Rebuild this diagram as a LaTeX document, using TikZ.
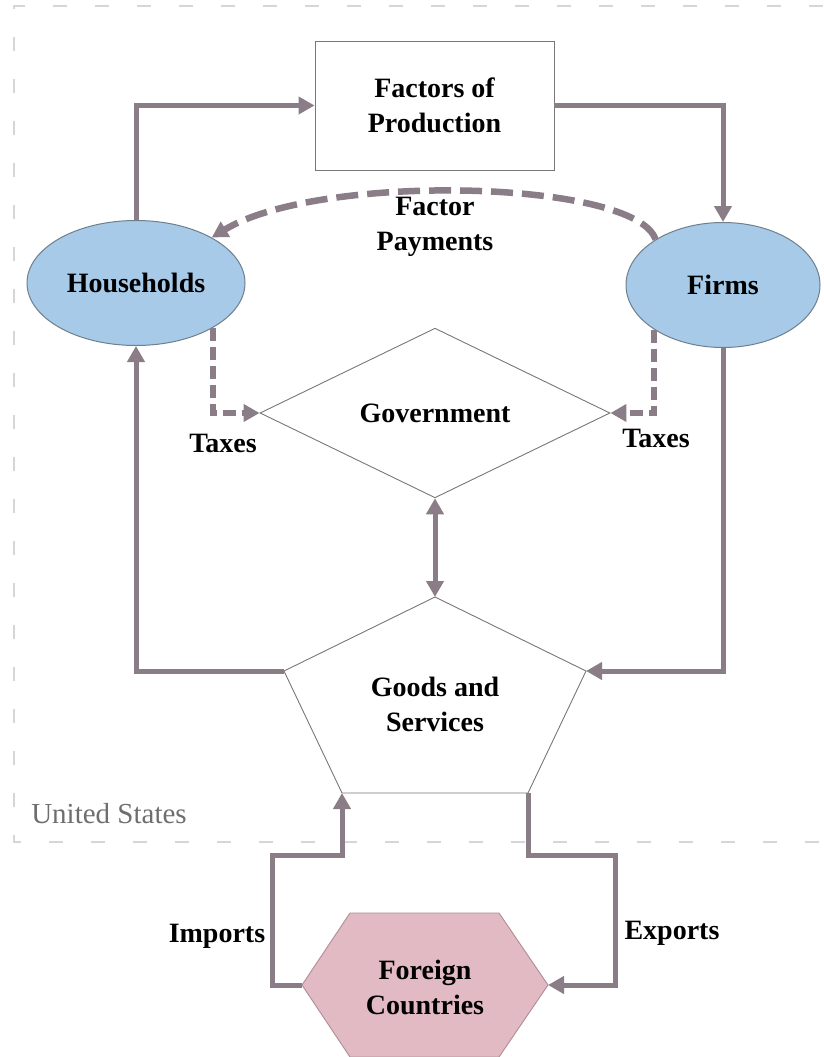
\documentclass[tikz,border=0pt]{standalone}
\usepackage{fontspec}
\setmainfont{Liberation Serif}
\usetikzlibrary{shapes.geometric,arrows.meta,calc}
\definecolor{flowc}{HTML}{8A7D87}
\definecolor{hhblue}{HTML}{A6CAE8}
\definecolor{hhedge}{HTML}{6F7F8C}
\definecolor{fcpink}{HTML}{E2BAC3}
\definecolor{fcedge}{HTML}{B08C95}
\definecolor{usgray}{HTML}{6E6E6E}
\definecolor{shapeedge}{HTML}{777777}
\begin{document}
\begin{tikzpicture}[x=1pt,y=-1pt,
  lbl/.style={font=\fontsize{28}{35}\selectfont\bfseries, align=center, text=black, inner sep=0pt},
  flow/.style={draw=flowc, line width=5pt, line join=miter, -{Triangle[length=16pt,width=17pt]}},
  dflow/.style={flow, line width=6.5pt, dash pattern=on 22pt off 9pt},
  tflow/.style={flow, line width=6pt, dash pattern=on 13pt off 6pt},
  sector/.style={ellipse, draw=hhedge, line width=1pt, fill=hhblue, inner sep=0pt, lbl},
  ruler/.style={draw=black!16, line width=1.6pt, dash pattern=on 14pt off 28pt},
  thinshape/.style={draw=shapeedge, line width=0.9pt}
]
\useasboundingbox (0,0) rectangle (823,1057);

% faint page frame
\draw[ruler] (823,6) -- (14,6) -- (14,842) -- (823,842);

% nodes
\node[thinshape, rectangle, minimum width=239pt, minimum height=129pt, lbl] (fop) at (434.5,105.5) {Factors of\\Production};
\node[sector, minimum width=218pt, minimum height=125pt] (hh) at (136,283) {Households};
\node[sector, minimum width=194pt, minimum height=125pt] (firms) at (723,285) {Firms};
\node[thinshape, diamond, minimum width=350pt, minimum height=150pt, lbl] (gov) at (435,413) {Government};

% goods and services pentagon
\draw[thinshape] (435,597) coordinate (gsT) -- (284,671) coordinate (gsL) -- (342,793) coordinate (gsBL)
  -- (528,793) coordinate (gsBR) -- (586,671) coordinate (gsR) -- cycle;
\node[lbl] (gs) at (435,704) {Goods and\\Services};

% foreign countries hexagon
\draw[fill=fcpink, draw=fcedge, line width=0.9pt] (350,913) -- (499,913) -- (548,985) coordinate (fcR)
  -- (499,1057) -- (350,1057) -- (302,985) coordinate (fcL) -- cycle;
\node[lbl] (fc) at (425,987) {Foreign\\Countries};

% labels
\node[lbl] (fp) at (435,227) {Factor\\Payments};
\node[lbl] (taxL) at (223,443) {Taxes};
\node[lbl] (taxR) at (656,438) {Taxes};
\node[lbl] (imp) at (217,936) {Imports};
\node[lbl] (exp) at (672,933) {Exports};
\node[font=\fontsize{29}{35}\selectfont, text=usgray, inner sep=0pt] (us) at (109,814) {United States};

% connectors
\draw[flow] (hh.north) |- (fop.west);
\draw[flow] (fop.east) -| (firms.north);
\draw[dflow] (firms.146) .. controls (636,180) and (320,172) .. (hh.31);
\draw[tflow] (hh.-30) |- (gov.west);
\draw[tflow] (firms.213) |- (gov.east);
\draw[flow] (firms.south) |- (gsR);
\draw[flow] (gsL) -| (hh.south);
\draw[flow, {Triangle[length=16pt,width=17pt]}-{Triangle[length=16pt,width=17pt]}] (gov.south) -- (gsT);
\draw[flow] (fcL) -- ++(-30,0) -- ++(0,-130) -| (gsBL);
\draw[flow] (gsBR) -- ++(0,62) -- ++(87,0) |- (fcR);
\end{tikzpicture}
\end{document}
